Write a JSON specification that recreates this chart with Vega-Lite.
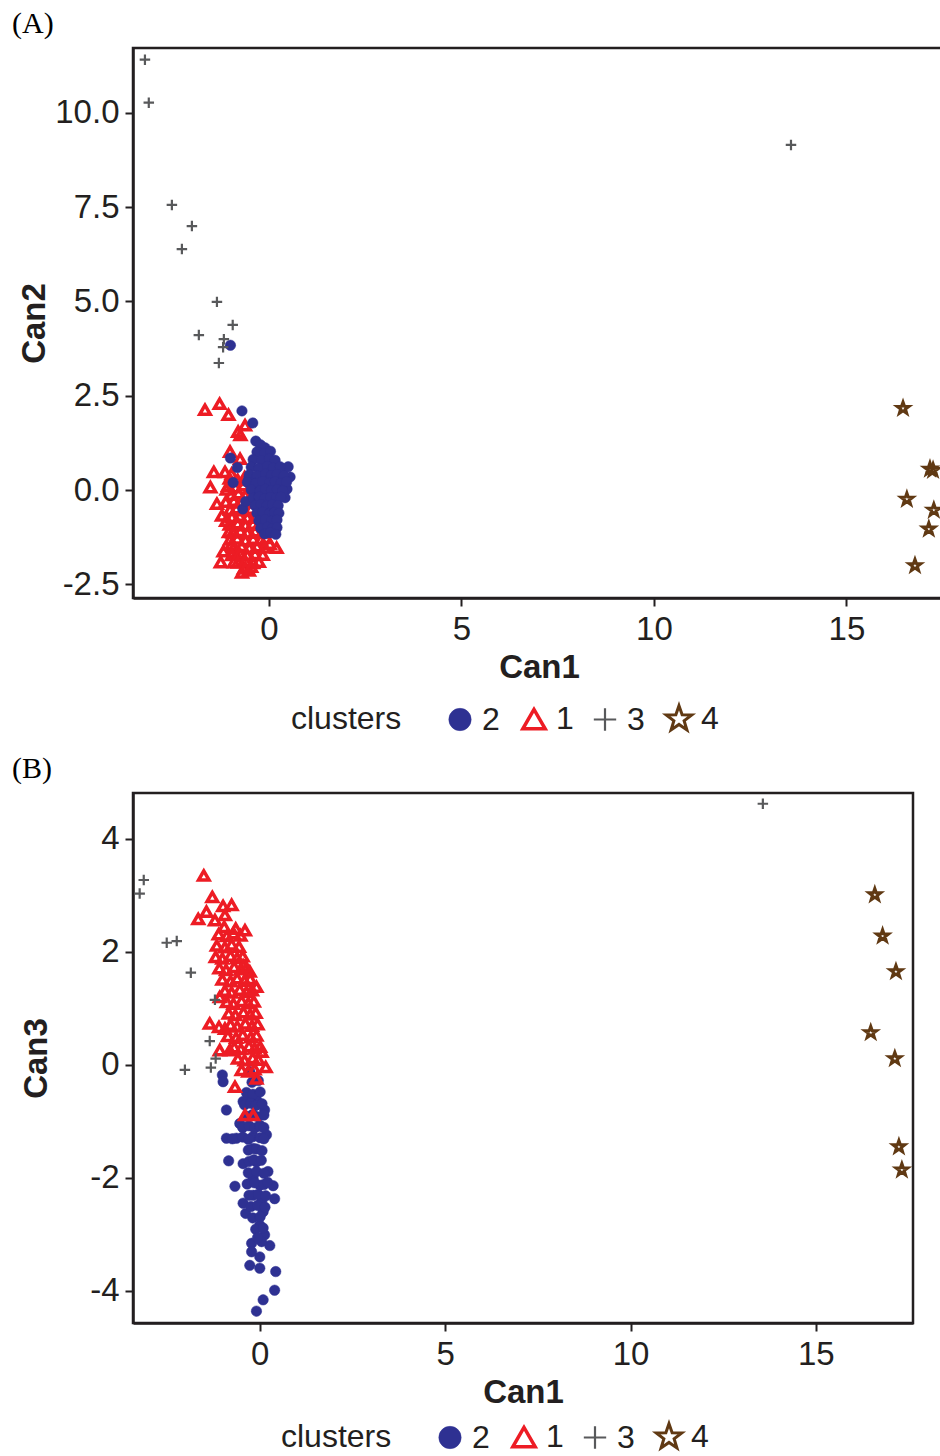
{
  "$schema": "https://vega.github.io/schema/vega-lite/v6.json",
  "padding": {"left": 10, "top": 7, "right": 0, "bottom": 0},
  "background": "white",
  "spacing": 195,
  "bounds": "flush",
  "datasets": {
    "a": [
      {"cluster":"1","Can1":-1.66,"Can2":2.13},{"cluster":"1","Can1":-1.28,"Can2":2.29},{"cluster":"1","Can1":-1.05,"Can2":2.0},{"cluster":"1","Can1":-0.62,"Can2":1.72},{"cluster":"1","Can1":-0.8,"Can2":1.55},{"cluster":"1","Can1":-0.74,"Can2":1.46},{"cluster":"1","Can1":-1.01,"Can2":1.02},{"cluster":"1","Can1":-0.75,"Can2":0.83},{"cluster":"1","Can1":-1.43,"Can2":0.48},{"cluster":"1","Can1":-1.14,"Can2":0.48},{"cluster":"1","Can1":-0.97,"Can2":0.43},{"cluster":"1","Can1":-1.52,"Can2":0.08},{"cluster":"1","Can1":-1.1,"Can2":0.02},{"cluster":"1","Can1":-1.35,"Can2":-0.36},{"cluster":"1","Can1":-1.22,"Can2":-0.67},{"cluster":"1","Can1":-1.11,"Can2":-0.81},{"cluster":"1","Can1":-1.04,"Can2":-1.11},{"cluster":"1","Can1":-1.25,"Can2":-1.91},{"cluster":"1","Can1":-0.91,"Can2":-1.91},{"cluster":"1","Can1":-0.65,"Can2":-2.08},{"cluster":"1","Can1":-0.52,"Can2":-2.13},{"cluster":"1","Can1":0.2,"Can2":-1.53},{"cluster":"1","Can1":0.02,"Can2":-1.42},{"cluster":"1","Can1":-0.7,"Can2":-2.18},{"cluster":"1","Can1":-0.85,"Can2":-1.7},{"cluster":"1","Can1":-0.98,"Can2":-1.45},{"cluster":"1","Can1":-1.18,"Can2":-1.62},
      {"cluster":"1","Can1":-1.02,"Can2":0.31},{"cluster":"1","Can1":-0.81,"Can2":0.27},{"cluster":"1","Can1":-0.63,"Can2":0.34},
      {"cluster":"1","Can1":-1.06,"Can2":0.12},{"cluster":"1","Can1":-0.87,"Can2":0.08},{"cluster":"1","Can1":-0.66,"Can2":0.13},{"cluster":"1","Can1":-0.47,"Can2":0.06},
      {"cluster":"1","Can1":-0.98,"Can2":-0.12},{"cluster":"1","Can1":-0.79,"Can2":-0.08},{"cluster":"1","Can1":-0.61,"Can2":-0.14},{"cluster":"1","Can1":-0.42,"Can2":-0.09},
      {"cluster":"1","Can1":-1.12,"Can2":-0.31},{"cluster":"1","Can1":-0.91,"Can2":-0.28},{"cluster":"1","Can1":-0.72,"Can2":-0.33},{"cluster":"1","Can1":-0.52,"Can2":-0.27},{"cluster":"1","Can1":-0.31,"Can2":-0.32},
      {"cluster":"1","Can1":-1.01,"Can2":-0.52},{"cluster":"1","Can1":-0.84,"Can2":-0.48},{"cluster":"1","Can1":-0.66,"Can2":-0.53},{"cluster":"1","Can1":-0.46,"Can2":-0.49},{"cluster":"1","Can1":-0.27,"Can2":-0.54},
      {"cluster":"1","Can1":-0.96,"Can2":-0.71},{"cluster":"1","Can1":-0.76,"Can2":-0.68},{"cluster":"1","Can1":-0.56,"Can2":-0.73},{"cluster":"1","Can1":-0.36,"Can2":-0.69},{"cluster":"1","Can1":-0.16,"Can2":-0.72},
      {"cluster":"1","Can1":-1.02,"Can2":-0.91},{"cluster":"1","Can1":-0.81,"Can2":-0.88},{"cluster":"1","Can1":-0.61,"Can2":-0.93},{"cluster":"1","Can1":-0.41,"Can2":-0.89},{"cluster":"1","Can1":-0.21,"Can2":-0.92},
      {"cluster":"1","Can1":-0.94,"Can2":-1.12},{"cluster":"1","Can1":-0.74,"Can2":-1.08},{"cluster":"1","Can1":-0.56,"Can2":-1.13},{"cluster":"1","Can1":-0.36,"Can2":-1.09},{"cluster":"1","Can1":-0.16,"Can2":-1.12},{"cluster":"1","Can1":-0.01,"Can2":-1.08},
      {"cluster":"1","Can1":-1.01,"Can2":-1.31},{"cluster":"1","Can1":-0.82,"Can2":-1.28},{"cluster":"1","Can1":-0.61,"Can2":-1.33},{"cluster":"1","Can1":-0.41,"Can2":-1.29},{"cluster":"1","Can1":-0.21,"Can2":-1.32},{"cluster":"1","Can1":-0.06,"Can2":-1.27},
      {"cluster":"1","Can1":-0.91,"Can2":-1.51},{"cluster":"1","Can1":-0.71,"Can2":-1.48},{"cluster":"1","Can1":-0.51,"Can2":-1.53},{"cluster":"1","Can1":-0.31,"Can2":-1.49},{"cluster":"1","Can1":-0.11,"Can2":-1.52},
      {"cluster":"1","Can1":-0.96,"Can2":-1.72},{"cluster":"1","Can1":-0.76,"Can2":-1.68},{"cluster":"1","Can1":-0.56,"Can2":-1.73},{"cluster":"1","Can1":-0.36,"Can2":-1.69},{"cluster":"1","Can1":-0.16,"Can2":-1.71},
      {"cluster":"1","Can1":-0.81,"Can2":-1.92},{"cluster":"1","Can1":-0.61,"Can2":-1.88},{"cluster":"1","Can1":-0.41,"Can2":-1.93},{"cluster":"1","Can1":-0.26,"Can2":-1.9},
      {"cluster":"1","Can1":-0.61,"Can2":-2.06},{"cluster":"1","Can1":-0.46,"Can2":-2.03},
      {"cluster":"2","Can1":-1.0,"Can2":3.84},{"cluster":"2","Can1":-0.7,"Can2":2.1},{"cluster":"2","Can1":-0.42,"Can2":1.78},{"cluster":"2","Can1":-0.34,"Can2":1.3},{"cluster":"2","Can1":-0.1,"Can2":1.12},{"cluster":"2","Can1":-0.22,"Can2":1.2},{"cluster":"2","Can1":-1.0,"Can2":0.85},{"cluster":"2","Can1":-0.93,"Can2":0.2},{"cluster":"2","Can1":-0.68,"Can2":-0.5},{"cluster":"2","Can1":0.36,"Can2":0.53},{"cluster":"2","Can1":0.47,"Can2":0.03},{"cluster":"2","Can1":0.55,"Can2":0.35},{"cluster":"2","Can1":0.5,"Can2":0.62},{"cluster":"2","Can1":0.42,"Can2":-0.2},{"cluster":"2","Can1":-0.52,"Can2":0.32},{"cluster":"2","Can1":-0.82,"Can2":0.6},{"cluster":"2","Can1":-0.6,"Can2":-0.3},
      {"cluster":"2","Can1":-0.31,"Can2":1.01},{"cluster":"2","Can1":-0.12,"Can2":0.98},{"cluster":"2","Can1":0.04,"Can2":1.03},
      {"cluster":"2","Can1":-0.41,"Can2":0.81},{"cluster":"2","Can1":-0.19,"Can2":0.78},{"cluster":"2","Can1":0.01,"Can2":0.83},{"cluster":"2","Can1":0.16,"Can2":0.79},
      {"cluster":"2","Can1":-0.46,"Can2":0.61},{"cluster":"2","Can1":-0.26,"Can2":0.58},{"cluster":"2","Can1":-0.04,"Can2":0.63},{"cluster":"2","Can1":0.11,"Can2":0.59},{"cluster":"2","Can1":0.29,"Can2":0.62},
      {"cluster":"2","Can1":-0.51,"Can2":0.41},{"cluster":"2","Can1":-0.31,"Can2":0.38},{"cluster":"2","Can1":-0.09,"Can2":0.43},{"cluster":"2","Can1":0.06,"Can2":0.39},{"cluster":"2","Can1":0.21,"Can2":0.42},{"cluster":"2","Can1":0.39,"Can2":0.38},
      {"cluster":"2","Can1":-0.56,"Can2":0.21},{"cluster":"2","Can1":-0.34,"Can2":0.18},{"cluster":"2","Can1":-0.16,"Can2":0.23},{"cluster":"2","Can1":0.01,"Can2":0.19},{"cluster":"2","Can1":0.16,"Can2":0.22},{"cluster":"2","Can1":0.31,"Can2":0.18},{"cluster":"2","Can1":0.46,"Can2":0.22},
      {"cluster":"2","Can1":-0.46,"Can2":0.01},{"cluster":"2","Can1":-0.24,"Can2":-0.02},{"cluster":"2","Can1":-0.09,"Can2":0.03},{"cluster":"2","Can1":0.06,"Can2":-0.01},{"cluster":"2","Can1":0.21,"Can2":0.02},{"cluster":"2","Can1":0.36,"Can2":-0.02},
      {"cluster":"2","Can1":-0.41,"Can2":-0.21},{"cluster":"2","Can1":-0.26,"Can2":-0.18},{"cluster":"2","Can1":-0.11,"Can2":-0.22},{"cluster":"2","Can1":0.04,"Can2":-0.19},{"cluster":"2","Can1":0.19,"Can2":-0.21},{"cluster":"2","Can1":0.31,"Can2":-0.18},
      {"cluster":"2","Can1":-0.36,"Can2":-0.41},{"cluster":"2","Can1":-0.21,"Can2":-0.38},{"cluster":"2","Can1":-0.06,"Can2":-0.42},{"cluster":"2","Can1":0.09,"Can2":-0.39},{"cluster":"2","Can1":0.24,"Can2":-0.41},
      {"cluster":"2","Can1":-0.31,"Can2":-0.61},{"cluster":"2","Can1":-0.16,"Can2":-0.58},{"cluster":"2","Can1":0.01,"Can2":-0.62},{"cluster":"2","Can1":0.14,"Can2":-0.59},{"cluster":"2","Can1":0.26,"Can2":-0.61},
      {"cluster":"2","Can1":-0.26,"Can2":-0.81},{"cluster":"2","Can1":-0.09,"Can2":-0.78},{"cluster":"2","Can1":0.06,"Can2":-0.82},{"cluster":"2","Can1":0.21,"Can2":-0.79},
      {"cluster":"2","Can1":-0.21,"Can2":-1.01},{"cluster":"2","Can1":-0.04,"Can2":-0.98},{"cluster":"2","Can1":0.09,"Can2":-1.02},{"cluster":"2","Can1":0.21,"Can2":-0.99},
      {"cluster":"2","Can1":-0.11,"Can2":-1.16},{"cluster":"2","Can1":0.04,"Can2":-1.13},{"cluster":"2","Can1":0.18,"Can2":-1.17},
      {"cluster":"3","Can1":-3.22,"Can2":11.41},{"cluster":"3","Can1":-3.12,"Can2":10.27},{"cluster":"3","Can1":-2.52,"Can2":7.56},{"cluster":"3","Can1":-2.0,"Can2":7.0},{"cluster":"3","Can1":-2.26,"Can2":6.39},{"cluster":"3","Can1":-1.35,"Can2":4.99},{"cluster":"3","Can1":-0.94,"Can2":4.38},{"cluster":"3","Can1":-1.82,"Can2":4.11},{"cluster":"3","Can1":-1.17,"Can2":4.0},{"cluster":"3","Can1":-1.19,"Can2":3.79},{"cluster":"3","Can1":-1.3,"Can2":3.37},{"cluster":"3","Can1":13.56,"Can2":9.15},
      {"cluster":"4","Can1":16.47,"Can2":2.17},{"cluster":"4","Can1":17.17,"Can2":0.56},{"cluster":"4","Can1":17.25,"Can2":0.53},{"cluster":"4","Can1":16.57,"Can2":-0.24},{"cluster":"4","Can1":17.27,"Can2":-0.53},{"cluster":"4","Can1":17.14,"Can2":-1.03},{"cluster":"4","Can1":16.78,"Can2":-2.0}
    ],
    "b": [
      {"cluster":"2","Can1":-1.01,"Can3":-0.18},{"cluster":"2","Can1":-0.99,"Can3":-0.3},{"cluster":"2","Can1":-0.27,"Can3":-0.12},{"cluster":"2","Can1":-0.32,"Can3":-0.54},{"cluster":"2","Can1":-0.45,"Can3":-0.65},{"cluster":"2","Can1":-0.09,"Can3":-0.62},{"cluster":"2","Can1":-0.9,"Can3":-0.8},{"cluster":"2","Can1":0.13,"Can3":-0.8},{"cluster":"2","Can1":-0.54,"Can3":-1.04},{"cluster":"2","Can1":0.0,"Can3":-1.07},{"cluster":"2","Can1":-0.9,"Can3":-1.3},{"cluster":"2","Can1":-0.63,"Can3":-1.3},{"cluster":"2","Can1":-0.18,"Can3":-1.27},{"cluster":"2","Can1":0.18,"Can3":-1.24},{"cluster":"2","Can1":-0.18,"Can3":-1.48},{"cluster":"2","Can1":-0.84,"Can3":-1.7},{"cluster":"2","Can1":-0.45,"Can3":-1.75},{"cluster":"2","Can1":-0.09,"Can3":-1.72},{"cluster":"2","Can1":0.22,"Can3":-1.89},{"cluster":"2","Can1":-0.18,"Can3":-2.01},{"cluster":"2","Can1":-0.67,"Can3":-2.15},{"cluster":"2","Can1":0.0,"Can3":-2.13},{"cluster":"2","Can1":0.36,"Can3":-2.14},{"cluster":"2","Can1":-0.18,"Can3":-2.31},{"cluster":"2","Can1":0.4,"Can3":-2.37},{"cluster":"2","Can1":-0.45,"Can3":-2.45},{"cluster":"2","Can1":0.05,"Can3":-2.42},{"cluster":"2","Can1":-0.38,"Can3":-2.63},{"cluster":"2","Can1":0.09,"Can3":-2.6},{"cluster":"2","Can1":0.0,"Can3":-2.84},{"cluster":"2","Can1":0.13,"Can3":-3.01},{"cluster":"2","Can1":-0.22,"Can3":-3.16},{"cluster":"2","Can1":0.27,"Can3":-3.2},{"cluster":"2","Can1":0.05,"Can3":-3.13},{"cluster":"2","Can1":-0.22,"Can3":-3.31},{"cluster":"2","Can1":0.0,"Can3":-3.4},{"cluster":"2","Can1":-0.27,"Can3":-3.55},{"cluster":"2","Can1":0.0,"Can3":-3.6},{"cluster":"2","Can1":0.43,"Can3":-3.66},{"cluster":"2","Can1":0.4,"Can3":-3.99},{"cluster":"2","Can1":0.09,"Can3":-4.16},{"cluster":"2","Can1":-0.09,"Can3":-4.36},
      {"cluster":"2","Can1":-0.21,"Can3":-0.31},{"cluster":"2","Can1":-0.04,"Can3":-0.28},
      {"cluster":"2","Can1":-0.36,"Can3":-0.49},{"cluster":"2","Can1":-0.19,"Can3":-0.52},{"cluster":"2","Can1":0.01,"Can3":-0.48},
      {"cluster":"2","Can1":-0.41,"Can3":-0.71},{"cluster":"2","Can1":-0.24,"Can3":-0.68},{"cluster":"2","Can1":-0.11,"Can3":-0.72},{"cluster":"2","Can1":0.06,"Can3":-0.69},
      {"cluster":"2","Can1":-0.34,"Can3":-0.91},{"cluster":"2","Can1":-0.19,"Can3":-0.88},{"cluster":"2","Can1":-0.06,"Can3":-0.92},{"cluster":"2","Can1":0.11,"Can3":-0.89},
      {"cluster":"2","Can1":-0.46,"Can3":-1.11},{"cluster":"2","Can1":-0.29,"Can3":-1.08},{"cluster":"2","Can1":-0.14,"Can3":-1.12},{"cluster":"2","Can1":0.01,"Can3":-1.09},{"cluster":"2","Can1":0.11,"Can3":-1.11},
      {"cluster":"2","Can1":-0.74,"Can3":-1.31},{"cluster":"2","Can1":-0.46,"Can3":-1.28},{"cluster":"2","Can1":-0.31,"Can3":-1.32},{"cluster":"2","Can1":0.01,"Can3":-1.29},{"cluster":"2","Can1":0.11,"Can3":-1.31},
      {"cluster":"2","Can1":-0.31,"Can3":-1.51},{"cluster":"2","Can1":-0.09,"Can3":-1.49},{"cluster":"2","Can1":0.06,"Can3":-1.52},
      {"cluster":"2","Can1":-0.29,"Can3":-1.71},{"cluster":"2","Can1":-0.16,"Can3":-1.68},{"cluster":"2","Can1":0.04,"Can3":-1.69},
      {"cluster":"2","Can1":-0.31,"Can3":-1.91},{"cluster":"2","Can1":-0.09,"Can3":-1.89},{"cluster":"2","Can1":0.11,"Can3":-1.92},
      {"cluster":"2","Can1":-0.34,"Can3":-2.11},{"cluster":"2","Can1":-0.14,"Can3":-2.09},{"cluster":"2","Can1":0.11,"Can3":-2.12},{"cluster":"2","Can1":0.21,"Can3":-2.08},
      {"cluster":"2","Can1":-0.29,"Can3":-2.31},{"cluster":"2","Can1":-0.04,"Can3":-2.29},{"cluster":"2","Can1":0.16,"Can3":-2.32},
      {"cluster":"2","Can1":-0.24,"Can3":-2.51},{"cluster":"2","Can1":-0.06,"Can3":-2.49},{"cluster":"2","Can1":0.14,"Can3":-2.52},
      {"cluster":"2","Can1":-0.19,"Can3":-2.71},{"cluster":"2","Can1":0.01,"Can3":-2.69},
      {"cluster":"2","Can1":-0.11,"Can3":-2.91},{"cluster":"2","Can1":0.09,"Can3":-2.89},
      {"cluster":"2","Can1":-0.06,"Can3":-3.06},
      {"cluster":"1","Can1":-1.51,"Can3":3.35},{"cluster":"1","Can1":-1.28,"Can3":2.97},{"cluster":"1","Can1":-0.99,"Can3":2.81},{"cluster":"1","Can1":-0.76,"Can3":2.83},{"cluster":"1","Can1":-1.44,"Can3":2.71},{"cluster":"1","Can1":-1.66,"Can3":2.58},{"cluster":"1","Can1":-1.21,"Can3":2.56},{"cluster":"1","Can1":-0.94,"Can3":2.65},{"cluster":"1","Can1":-0.96,"Can3":2.44},{"cluster":"1","Can1":-0.65,"Can3":2.41},{"cluster":"1","Can1":-0.4,"Can3":2.38},{"cluster":"1","Can1":-1.08,"Can3":1.2},{"cluster":"1","Can1":-1.35,"Can3":0.73},{"cluster":"1","Can1":-1.1,"Can3":0.67},{"cluster":"1","Can1":-0.94,"Can3":0.64},{"cluster":"1","Can1":-1.08,"Can3":0.26},{"cluster":"1","Can1":-0.81,"Can3":0.26},{"cluster":"1","Can1":-0.45,"Can3":1.76},{"cluster":"1","Can1":-0.27,"Can3":1.65},{"cluster":"1","Can1":-0.09,"Can3":1.38},{"cluster":"1","Can1":0.05,"Can3":0.23},{"cluster":"1","Can1":0.16,"Can3":-0.04},{"cluster":"1","Can1":-0.67,"Can3":-0.39},{"cluster":"1","Can1":-0.4,"Can3":-0.89},{"cluster":"1","Can1":-0.18,"Can3":-0.89},{"cluster":"1","Can1":-0.09,"Can3":-0.24},
      {"cluster":"1","Can1":-1.11,"Can3":2.31},{"cluster":"1","Can1":-0.89,"Can3":2.28},{"cluster":"1","Can1":-0.71,"Can3":2.33},{"cluster":"1","Can1":-0.52,"Can3":2.29},
      {"cluster":"1","Can1":-1.16,"Can3":2.11},{"cluster":"1","Can1":-0.94,"Can3":2.08},{"cluster":"1","Can1":-0.76,"Can3":2.13},{"cluster":"1","Can1":-0.56,"Can3":2.09},
      {"cluster":"1","Can1":-1.19,"Can3":1.91},{"cluster":"1","Can1":-1.01,"Can3":1.88},{"cluster":"1","Can1":-0.79,"Can3":1.93},{"cluster":"1","Can1":-0.61,"Can3":1.89},{"cluster":"1","Can1":-0.46,"Can3":1.92},
      {"cluster":"1","Can1":-1.09,"Can3":1.71},{"cluster":"1","Can1":-0.91,"Can3":1.68},{"cluster":"1","Can1":-0.69,"Can3":1.73},{"cluster":"1","Can1":-0.51,"Can3":1.69},{"cluster":"1","Can1":-0.36,"Can3":1.72},
      {"cluster":"1","Can1":-1.01,"Can3":1.51},{"cluster":"1","Can1":-0.79,"Can3":1.48},{"cluster":"1","Can1":-0.61,"Can3":1.53},{"cluster":"1","Can1":-0.41,"Can3":1.49},{"cluster":"1","Can1":-0.26,"Can3":1.52},
      {"cluster":"1","Can1":-0.94,"Can3":1.31},{"cluster":"1","Can1":-0.76,"Can3":1.28},{"cluster":"1","Can1":-0.54,"Can3":1.33},{"cluster":"1","Can1":-0.36,"Can3":1.29},{"cluster":"1","Can1":-0.21,"Can3":1.32},
      {"cluster":"1","Can1":-0.89,"Can3":1.11},{"cluster":"1","Can1":-0.71,"Can3":1.08},{"cluster":"1","Can1":-0.49,"Can3":1.13},{"cluster":"1","Can1":-0.31,"Can3":1.09},{"cluster":"1","Can1":-0.16,"Can3":1.12},
      {"cluster":"1","Can1":-0.84,"Can3":0.91},{"cluster":"1","Can1":-0.66,"Can3":0.88},{"cluster":"1","Can1":-0.44,"Can3":0.93},{"cluster":"1","Can1":-0.26,"Can3":0.89},{"cluster":"1","Can1":-0.11,"Can3":0.92},
      {"cluster":"1","Can1":-0.79,"Can3":0.71},{"cluster":"1","Can1":-0.61,"Can3":0.68},{"cluster":"1","Can1":-0.39,"Can3":0.73},{"cluster":"1","Can1":-0.21,"Can3":0.69},{"cluster":"1","Can1":-0.06,"Can3":0.72},
      {"cluster":"1","Can1":-0.86,"Can3":0.51},{"cluster":"1","Can1":-0.64,"Can3":0.48},{"cluster":"1","Can1":-0.46,"Can3":0.53},{"cluster":"1","Can1":-0.24,"Can3":0.49},{"cluster":"1","Can1":-0.09,"Can3":0.52},
      {"cluster":"1","Can1":-0.69,"Can3":0.31},{"cluster":"1","Can1":-0.51,"Can3":0.28},{"cluster":"1","Can1":-0.29,"Can3":0.33},{"cluster":"1","Can1":-0.14,"Can3":0.29},{"cluster":"1","Can1":0.01,"Can3":0.32},
      {"cluster":"1","Can1":-0.59,"Can3":0.11},{"cluster":"1","Can1":-0.41,"Can3":0.08},{"cluster":"1","Can1":-0.19,"Can3":0.12},{"cluster":"1","Can1":-0.04,"Can3":0.09},
      {"cluster":"1","Can1":-0.49,"Can3":-0.09},{"cluster":"1","Can1":-0.31,"Can3":-0.12},{"cluster":"1","Can1":-0.14,"Can3":-0.08},
      {"cluster":"3","Can1":-3.13,"Can3":3.27},{"cluster":"3","Can1":-3.24,"Can3":3.03},{"cluster":"3","Can1":-2.51,"Can3":2.16},{"cluster":"3","Can1":-2.24,"Can3":2.19},{"cluster":"3","Can1":-1.86,"Can3":1.63},{"cluster":"3","Can1":-1.21,"Can3":1.15},{"cluster":"3","Can1":-1.35,"Can3":0.42},{"cluster":"3","Can1":-1.19,"Can3":0.11},{"cluster":"3","Can1":-1.32,"Can3":-0.05},{"cluster":"3","Can1":-2.02,"Can3":-0.09},{"cluster":"3","Can1":13.57,"Can3":4.62},
      {"cluster":"4","Can1":16.59,"Can3":3.01},{"cluster":"4","Can1":16.8,"Can3":2.28},{"cluster":"4","Can1":17.16,"Can3":1.65},{"cluster":"4","Can1":16.48,"Can3":0.57},{"cluster":"4","Can1":17.13,"Can3":0.11},{"cluster":"4","Can1":17.24,"Can3":-1.45},{"cluster":"4","Can1":17.32,"Can3":-1.86}
    ]
  },
  "vconcat": [
    {
      "width": 812,
      "height": 550,
      "data": {"name": "a"},
      "title": {"text": "(A)", "anchor": "start", "frame": "group", "dx": -121, "offset": 9, "font": "Liberation Serif", "fontSize": 30, "fontWeight": "normal", "color": "#000000"},
      "mark": {"type": "point", "size": 110, "opacity": 1, "filled": false},
      "encoding": {
        "x": {"field": "Can1", "type": "quantitative", "scale": {"domain": [-3.53, 17.56], "nice": false, "zero": false}, "axis": {"values": [0, 5, 10, 15], "format": "d", "title": "Can1", "labelPadding": 7, "titlePadding": 5}},
        "y": {"field": "Can2", "type": "quantitative", "scale": {"domain": [-2.86, 11.72], "nice": false, "zero": false}, "axis": {"values": [-2.5, 0, 2.5, 5, 7.5, 10], "format": ".1f", "title": "Can2", "labelPadding": 6, "titlePadding": 3}},
        "stroke": {"field": "cluster", "type": "ordinal", "scale": {"type": "ordinal", "domain": ["2", "1", "3", "4"], "range": ["#2E3192", "#ED1C24", "#58595B", "#603913"]}, "legend": {"title": "clusters", "orient": "none", "legendX": 158, "legendY": 655, "direction": "horizontal", "columns": 4, "titleOrient": "left"}},
        "fill": {"field": "cluster", "type": "ordinal", "scale": {"type": "ordinal", "domain": ["2", "1", "3", "4"], "range": ["#2E3192", "transparent", "transparent", "transparent"]}, "legend": {"title": "clusters", "orient": "none", "legendX": 158, "legendY": 655, "direction": "horizontal", "columns": 4, "titleOrient": "left"}},
        "shape": {"field": "cluster", "type": "ordinal", "scale": {"type": "ordinal", "domain": ["2", "1", "3", "4"], "range": ["circle", "triangle-up", "M-1,0L1,0M0,-1L0,1", "M0,-1.2L0.282,-0.388L1.141,-0.371L0.457,0.148L0.705,0.971L0,0.48L-0.705,0.971L-0.457,0.148L-1.141,-0.371L-0.282,-0.388Z"]}, "legend": {"title": "clusters", "orient": "none", "legendX": 158, "legendY": 655, "direction": "horizontal", "columns": 4, "titleOrient": "left"}},
        "strokeWidth": {"field": "cluster", "type": "ordinal", "scale": {"type": "ordinal", "domain": ["2", "1", "3", "4"], "range": [0.5, 3.5, 2.2, 3]}, "legend": {"title": "clusters", "orient": "none", "legendX": 158, "legendY": 655, "direction": "horizontal", "columns": 4, "titleOrient": "left"}}
      }
    },
    {
      "width": 780,
      "height": 530,
      "data": {"name": "b"},
      "title": {"text": "(B)", "anchor": "start", "frame": "group", "dx": -121, "offset": 9, "font": "Liberation Serif", "fontSize": 30, "fontWeight": "normal", "color": "#000000"},
      "mark": {"type": "point", "size": 110, "opacity": 1, "filled": false},
      "encoding": {
        "x": {"field": "Can1", "type": "quantitative", "scale": {"domain": [-3.42, 17.62], "nice": false, "zero": false}, "axis": {"values": [0, 5, 10, 15], "format": "d", "title": "Can1", "labelPadding": 7, "titlePadding": 5}},
        "y": {"field": "Can3", "type": "quantitative", "scale": {"domain": [-4.57, 4.81], "nice": false, "zero": false}, "axis": {"values": [-4, -2, 0, 2, 4], "format": "d", "title": "Can3", "labelPadding": 6, "titlePadding": 36}},
        "stroke": {"field": "cluster", "type": "ordinal", "scale": {"type": "ordinal", "domain": ["2", "1", "3", "4"], "range": ["#2E3192", "#ED1C24", "#58595B", "#603913"]}, "legend": {"title": "clusters", "orient": "none", "legendX": 148, "legendY": 628, "direction": "horizontal", "columns": 4, "titleOrient": "left"}},
        "fill": {"field": "cluster", "type": "ordinal", "scale": {"type": "ordinal", "domain": ["2", "1", "3", "4"], "range": ["#2E3192", "transparent", "transparent", "transparent"]}, "legend": {"title": "clusters", "orient": "none", "legendX": 148, "legendY": 628, "direction": "horizontal", "columns": 4, "titleOrient": "left"}},
        "shape": {"field": "cluster", "type": "ordinal", "scale": {"type": "ordinal", "domain": ["2", "1", "3", "4"], "range": ["circle", "triangle-up", "M-1,0L1,0M0,-1L0,1", "M0,-1.2L0.282,-0.388L1.141,-0.371L0.457,0.148L0.705,0.971L0,0.48L-0.705,0.971L-0.457,0.148L-1.141,-0.371L-0.282,-0.388Z"]}, "legend": {"title": "clusters", "orient": "none", "legendX": 148, "legendY": 628, "direction": "horizontal", "columns": 4, "titleOrient": "left"}},
        "strokeWidth": {"field": "cluster", "type": "ordinal", "scale": {"type": "ordinal", "domain": ["2", "1", "3", "4"], "range": [0.5, 3.5, 2.2, 3]}, "legend": {"title": "clusters", "orient": "none", "legendX": 148, "legendY": 628, "direction": "horizontal", "columns": 4, "titleOrient": "left"}}
      }
    }
  ],
  "resolve": {
    "scale": {"x": "independent", "y": "independent", "stroke": "independent", "fill": "independent", "shape": "independent", "strokeWidth": "independent"},
    "legend": {"stroke": "independent", "fill": "independent", "shape": "independent", "strokeWidth": "independent"}
  },
  "config": {
    "font": "Liberation Sans",
    "locale": {"number": {"decimal": ".", "thousands": ",", "grouping": [3], "currency": ["$", ""], "minus": "-"}},
    "view": {"stroke": "#231F20", "strokeWidth": 2.5},
    "axis": {"grid": false, "domainColor": "#231F20", "domainWidth": 2.5, "tickColor": "#231F20", "tickWidth": 2, "tickSize": 8, "labelFont": "Liberation Sans", "labelFontSize": 33, "labelColor": "#231F20", "labelFlush": false, "labelOverlap": false, "titleFont": "Liberation Sans", "titleFontSize": 33, "titleFontWeight": "bold", "titleColor": "#231F20"},
    "legend": {"titleFont": "Liberation Sans", "titleFontSize": 32, "titleFontWeight": "normal", "titleColor": "#231F20", "titlePadding": 42, "labelFont": "Liberation Sans", "labelFontSize": 32, "labelColor": "#231F20", "labelOffset": 6, "symbolSize": 500, "columnPadding": 15, "symbolStrokeWidth": 2.5}
  }
}
